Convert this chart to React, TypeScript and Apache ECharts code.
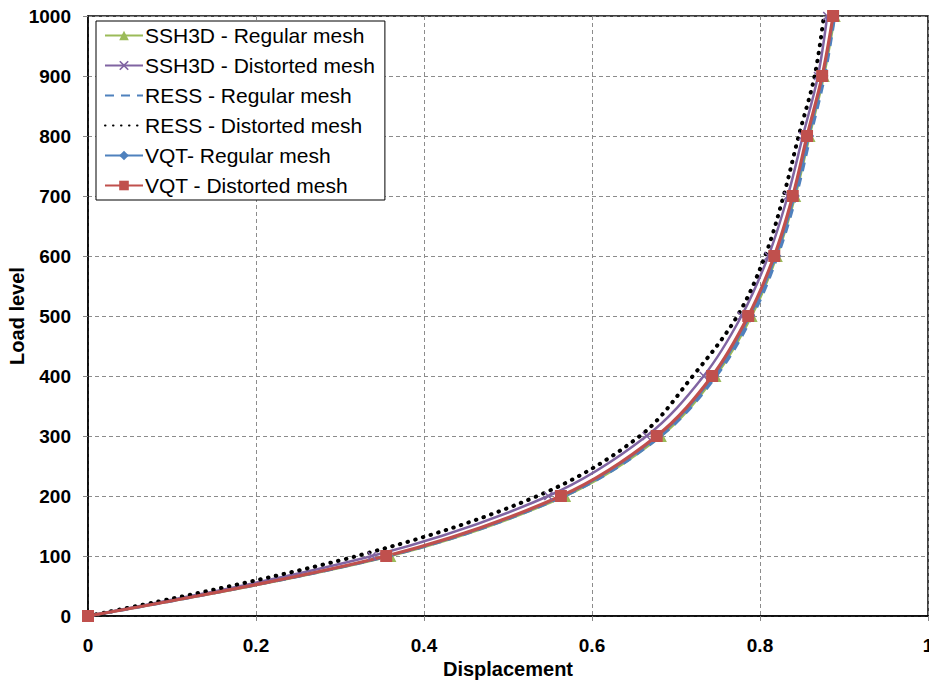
import React, { useEffect, useRef } from "react";
import * as echarts from "echarts";

const loadLevels = [0, 100, 200, 300, 400, 500, 600, 700, 800, 900, 1000];
const ssh3dRegular = [0, 0.36, 0.568, 0.682, 0.747, 0.79, 0.82, 0.842, 0.859, 0.876, 0.889];
const ssh3dDistorted = [0, 0.338, 0.548, 0.665, 0.733, 0.778, 0.81, 0.833, 0.851, 0.869, 0.88];
const ressRegular = [0, 0.358, 0.567, 0.682, 0.748, 0.791, 0.821, 0.843, 0.86, 0.877, 0.889];
const ressDistorted = [0, 0.32, 0.535, 0.657, 0.72, 0.773, 0.806, 0.828, 0.846, 0.865, 0.876];
const vqtRegular = [0, 0.357, 0.565, 0.679, 0.745, 0.788, 0.819, 0.841, 0.858, 0.875, 0.888];
const vqtDistorted = [0, 0.355, 0.563, 0.677, 0.743, 0.786, 0.817, 0.839, 0.856, 0.874, 0.887];

const seriesNames = [
  "SSH3D - Regular mesh",
  "SSH3D - Distorted mesh",
  "RESS - Regular mesh",
  "RESS - Distorted mesh",
  "VQT- Regular mesh",
  "VQT - Distorted mesh",
];

const xTicks = ["0", "0.2", "0.4", "0.6", "0.8", "1"];

const FONT = "'Liberation Sans', Arial, sans-serif";
const CROSS = "path://M0,1.2L1.2,0L5,3.8L8.8,0L10,1.2L6.2,5L10,8.8L8.8,10L5,6.2L1.2,10L0,8.8L3.8,5Z";

function pairs(xs: number[]) {
  return xs.map((x, i) => [x, loadLevels[i]]);
}

export default function App() {
  const ref = useRef<HTMLDivElement>(null);
  useEffect(() => {
    document.body.style.margin = "0";
    const chart = echarts.init(ref.current!, null, { renderer: "svg" });
    const base = { type: "line", smooth: 0.35, clip: false, z: 3 };
    chart.setOption({
      animation: false,
      backgroundColor: "#ffffff",
      grid: {
        left: 88,
        right: 1,
        top: 16,
        bottom: 68,
        containLabel: false,
        outerBoundsMode: "none",
        show: true,
        borderColor: "#000",
        borderWidth: 1.5,
        backgroundColor: "transparent",
      },
      legend: {
        left: 96,
        top: 21,
        orient: "vertical",
        padding: [4, 10, 4, 8],
        itemGap: 9,
        itemWidth: 38,
        itemHeight: 12,
        backgroundColor: "#fff",
        borderColor: "#000",
        borderWidth: 1,
        borderRadius: 0,
        textStyle: { fontFamily: FONT, fontSize: 21, color: "#000", lineHeight: 21, padding: [0, 0, 0, -3] },
        data: seriesNames.map((n, i) =>
          i === 2 || i === 3 ? { name: n, itemStyle: { opacity: 0 } } : { name: n }
        ),
      },
      xAxis: {
        type: "value",
        min: 0,
        max: 1,
        interval: 0.2,
        name: "Displacement",
        nameLocation: "middle",
        nameGap: 43,
        nameMoveOverlap: false,
        nameTextStyle: { fontFamily: FONT, fontSize: 20, fontWeight: "bold", color: "#000" },
        axisLine: { show: true, lineStyle: { color: "#000", width: 1.5 } },
        axisTick: { show: true, inside: false, length: 5, lineStyle: { color: "#888" } },
        axisLabel: {
          fontFamily: FONT,
          fontSize: 19,
          fontWeight: "bold",
          color: "#000",
          margin: 20,
          formatter: (v: number) => xTicks[Math.round(v / 0.2)] ?? String(v),
        },
        splitLine: { show: true, lineStyle: { color: "#8c8c8c", type: [4, 3], width: 1 } },
      },
      yAxis: {
        type: "value",
        min: 0,
        max: 1000,
        interval: 100,
        name: "Load level",
        nameLocation: "middle",
        nameGap: 61,
        nameMoveOverlap: false,
        nameTextStyle: { fontFamily: FONT, fontSize: 20, fontWeight: "bold", color: "#000" },
        axisLine: { show: true, lineStyle: { color: "#000", width: 1.5 } },
        axisTick: { show: true, inside: false, length: 5, lineStyle: { color: "#888" } },
        axisLabel: {
          fontFamily: FONT,
          fontSize: 19,
          fontWeight: "bold",
          color: "#000",
          margin: 17,
          formatter: (v: number) => String(v),
        },
        splitLine: { show: true, lineStyle: { color: "#8c8c8c", type: [4, 3], width: 1 } },
      },
      series: [
        {
          ...base,
          name: seriesNames[0],
          data: pairs(ssh3dRegular),
          color: "#9BBB59",
          symbol: "triangle",
          symbolSize: 12,
          lineStyle: { width: 2.5, color: "#9BBB59" },
          itemStyle: { color: "#9BBB59" },
        },
        {
          ...base,
          name: seriesNames[1],
          data: pairs(ssh3dDistorted),
          color: "#8064A2",
          symbol: CROSS,
          symbolSize: 9,
          lineStyle: { width: 2.5, color: "#8064A2" },
          itemStyle: { color: "#8064A2" },
        },
        {
          ...base,
          name: seriesNames[2],
          data: pairs(ressRegular),
          color: "#4F81BD",
          symbol: "none",
          showSymbol: false,
          lineStyle: { width: 3, color: "#4F81BD", type: [9, 7] },
        },
        {
          ...base,
          name: seriesNames[3],
          data: pairs(ressDistorted),
          color: "#000",
          symbol: "none",
          showSymbol: false,
          lineStyle: { width: 4, color: "#000", type: [0.5, 7.5], cap: "round" },
        },
        {
          ...base,
          name: seriesNames[4],
          data: pairs(vqtRegular),
          color: "#4F81BD",
          symbol: "diamond",
          symbolSize: 11,
          lineStyle: { width: 2.5, color: "#4F81BD" },
          itemStyle: { color: "#4F81BD" },
        },
        {
          ...base,
          name: seriesNames[5],
          data: pairs(vqtDistorted),
          color: "#C0504D",
          symbol: "rect",
          symbolSize: 12,
          lineStyle: { width: 3.2, color: "#C0504D" },
          itemStyle: { color: "#C0504D" },
        },
      ],
    });
    return () => chart.dispose();
  }, []);
  return <div ref={ref} style={{ position: "absolute", left: 0, top: 0, width: 929, height: 684 }} />;
}
